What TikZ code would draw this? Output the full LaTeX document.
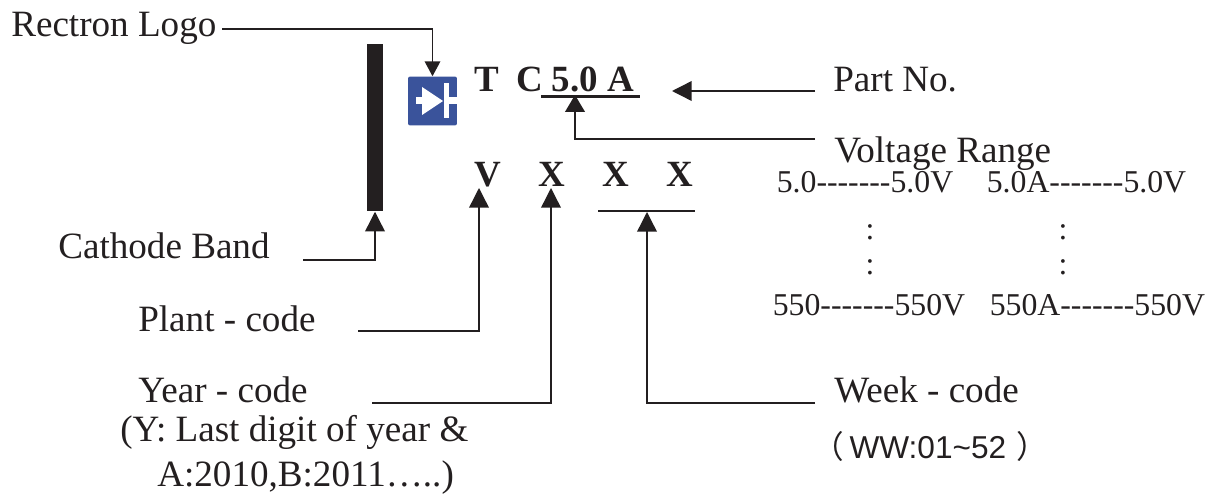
\documentclass[tikz,border=0pt]{standalone}
\usepackage{fontspec}
\setmainfont{Liberation Serif}
\setsansfont{Liberation Sans}
\newfontfamily\cjk{Noto Sans CJK SC}
\usetikzlibrary{arrows.meta}
\definecolor{inkblack}{HTML}{231F20}
\definecolor{iconblue}{HTML}{3A539B}
\newcommand{\dashrun}{-{}-{}-{}-{}-{}-{}-}
\tikzset{
    lbl/.style={anchor=base west,inner sep=0pt,text=inkblack,font=\fontsize{26.4}{30}\selectfont},
    rng/.style={anchor=base west,inner sep=0pt,text=inkblack,font=\fontsize{22.6}{26}\selectfont},
    code/.style={anchor=base,inner sep=1.4pt,text=inkblack,font=\fontsize{26.3}{30}\selectfont\bfseries},
    pointer/.style={draw=inkblack,line width=1pt,-{Triangle[length=14pt,width=14pt]}},
    rule/.style={draw=inkblack,line width=1pt}
}

\begin{document}
\begin{tikzpicture}[x=0.25mm,y=-0.25mm]
    \useasboundingbox (0,0) rectangle (1213,494);
    % Band and logo
    \node[fill=inkblack,minimum width=16*0.711pt,minimum height=168*0.711pt,inner sep=0pt] (band) at (375,127.5) {};
    \node[fill=iconblue,rounded corners=1.5pt,minimum size=49*0.711pt,inner sep=0pt] (icon) at (432.5,101) {};
    \fill[white] (422,87) -- (443,101) -- (422,115) -- cycle;
    \fill[white] (444,83) rectangle (449,118);
    \fill[white] (416,97) rectangle (423,104);
    \fill[white] (448,97) rectangle (457,104);
    % Marking
    \node[code,anchor=base west,inner sep=0pt] (tcmark) at (474.5,91) {T\hspace{12.4pt}C\hspace{5.8pt}5.0 A};
    \node[code] (plant) at (487.5,186) {V};
    \node[code] (year) at (551.5,186) {X};
    \node[code] (weeka) at (615.5,186) {X};
    \node[code] (weekb) at (679.5,186) {X};
    \coordinate (tcleft) at (541,96.5);
    \coordinate (tcright) at (640,96.5);
    \draw[rule,line width=2pt] (tcleft) -- (tcright);
    \coordinate (wkleft) at (598,211);
    \coordinate (wkright) at (695,211);
    \coordinate (wkmid) at (647,212);
    \draw[rule] (wkleft) -- (wkright);
    % Labels
    \node[lbl] (logotxt) at (11,37) {Rectron Logo};
    \node[lbl] (parttxt) at (833,91) {Part No.};
    \node[lbl] (volttxt) at (834,162) {Voltage Range};
    \node[lbl] (cathtxt) at (58,258) {Cathode Band};
    \node[lbl] (planttxt) at (138,331) {Plant - code};
    \node[lbl] (yeartxt) at (138,402) {Year - code};
    \node[lbl] (yearnote) at (120,441) {(Y: Last digit of year \&};
    \node[lbl] (yearlist) at (157,486) {A:2010,B:2011…..)};
    \node[lbl] (weektxt) at (834,402) {Week - code};
    \node[rng,font=\fontsize{22.5}{26}\selectfont\sffamily] (weeknote) at (812,458) {{\cjk（}\hspace{4pt}WW:01\textasciitilde52\hspace{7pt}{\cjk）}};
    % Voltage table
    \node[rng] (rowa) at (776.5,193) {5.0\dashrun5.0V};
    \node[rng] (rowb) at (986.5,193) {5.0A\dashrun5.0V};
    \node[rng] (rowc) at (772.5,315) {550\dashrun550V};
    \node[rng] (rowd) at (989.5,315) {550A\dashrun550V};
    \node[rng,anchor=base] (dota) at (870,239) {:};
    \node[rng,anchor=base] (dotb) at (870,274) {:};
    \node[rng,anchor=base] (dotc) at (1063,239) {:};
    \node[rng,anchor=base] (dotd) at (1063,274) {:};
    % Pfeile
    \coordinate (logoend) at (222,29);
    \coordinate (partend) at (815,91);
    \coordinate (parttip) at (672,91);
    \coordinate (voltend) at (815,139);
    \coordinate (volttip) at (575,95);
    \coordinate (cathend) at (303,260);
    \coordinate (plantend) at (358,331);
    \coordinate (planttip) at (479,188);
    \coordinate (yearend) at (372,403);
    \coordinate (yeartip) at (551,188);
    \coordinate (weekend) at (815,403);
    \draw[pointer,-{Triangle[length=10.5pt,width=11pt]}] (logoend) -| (icon.north);
    \draw[pointer] (partend) -- (parttip);
    \draw[pointer,-{Triangle[length=12pt,width=14pt]}] (voltend) -| (volttip);
    \draw[pointer] (cathend) -| (band.south);
    \draw[pointer] (plantend) -| (planttip);
    \draw[pointer] (yearend) -| (yeartip);
    \draw[pointer] (weekend) -| (wkmid);
\end{tikzpicture}
\end{document}
